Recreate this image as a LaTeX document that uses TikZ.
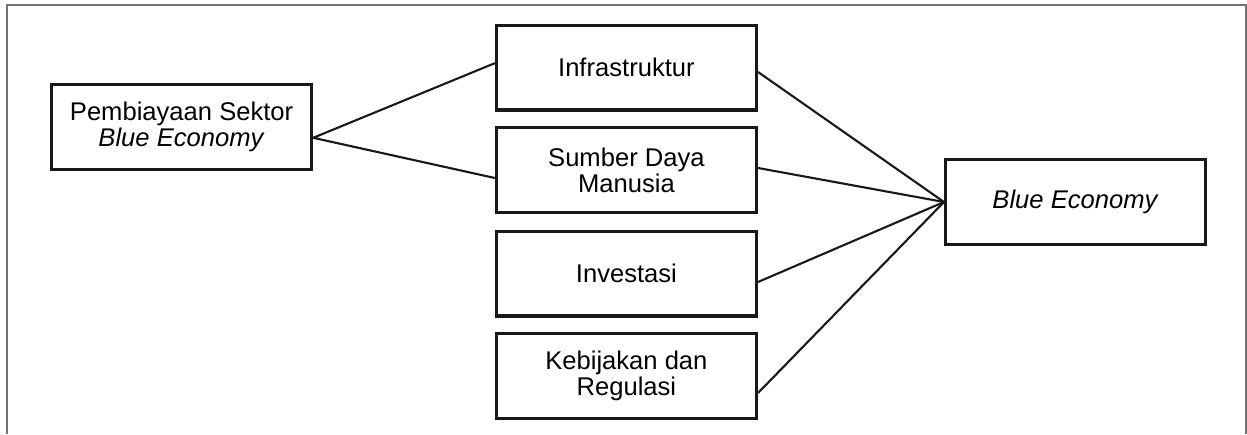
\documentclass[tikz,border=0pt]{standalone}
\usepackage{fontspec}
\setmainfont{Liberation Sans}

\tikzset{
  factor/.style={draw=black!90, line width=2.3pt, minimum width=6.5cm, minimum height=2.12cm,
    inner sep=2pt, align=center, font=\fontsize{18.2}{18.6}\selectfont},
  link/.style={draw=black!90, line width=1.5pt},
  frame/.style={draw=black!55, line width=0.8pt}
}

\begin{document}
\begin{tikzpicture}
          \useasboundingbox (0,0) rectangle (31.175,10.85);
          \draw[frame] (0.175,0) -- (0.175,10.725) -- (31.15,10.725) -- (31.15,0);
          \node[factor] (pembiayaan) at (4.54,7.68)  {Pembiayaan Sektor\\\textit{Blue Economy}};
          \node[factor] (infra)      at (15.66,9.16) {Infrastruktur};
          \node[factor] (sdm)        at (15.66,6.6)  {Sumber Daya\\Manusia};
          \node[factor] (investasi)  at (15.66,4.01) {Investasi};
          \node[factor] (kebijakan)  at (15.66,1.45) {Kebijakan dan\\Regulasi};
          \node[factor] (blue)       at (26.89,5.8)  {\textit{Blue Economy}};
          % left fan
          \draw[link] ([yshift=0.11cm]infra.west) -- ([yshift=-0.275cm]pembiayaan.east)
                      -- ([yshift=-0.2cm]sdm.west);
          % right fan
          \draw[link] ([yshift=-0.11cm]infra.east) -- (blue.west);
          \draw[link] ([yshift=0.05cm]sdm.east) -- (blue.west);
          \draw[link] ([yshift=-0.21cm]investasi.east) -- (blue.west);
          \draw[link] ([yshift=-0.425cm]kebijakan.east) -- (blue.west);
\end{tikzpicture}
\end{document}
